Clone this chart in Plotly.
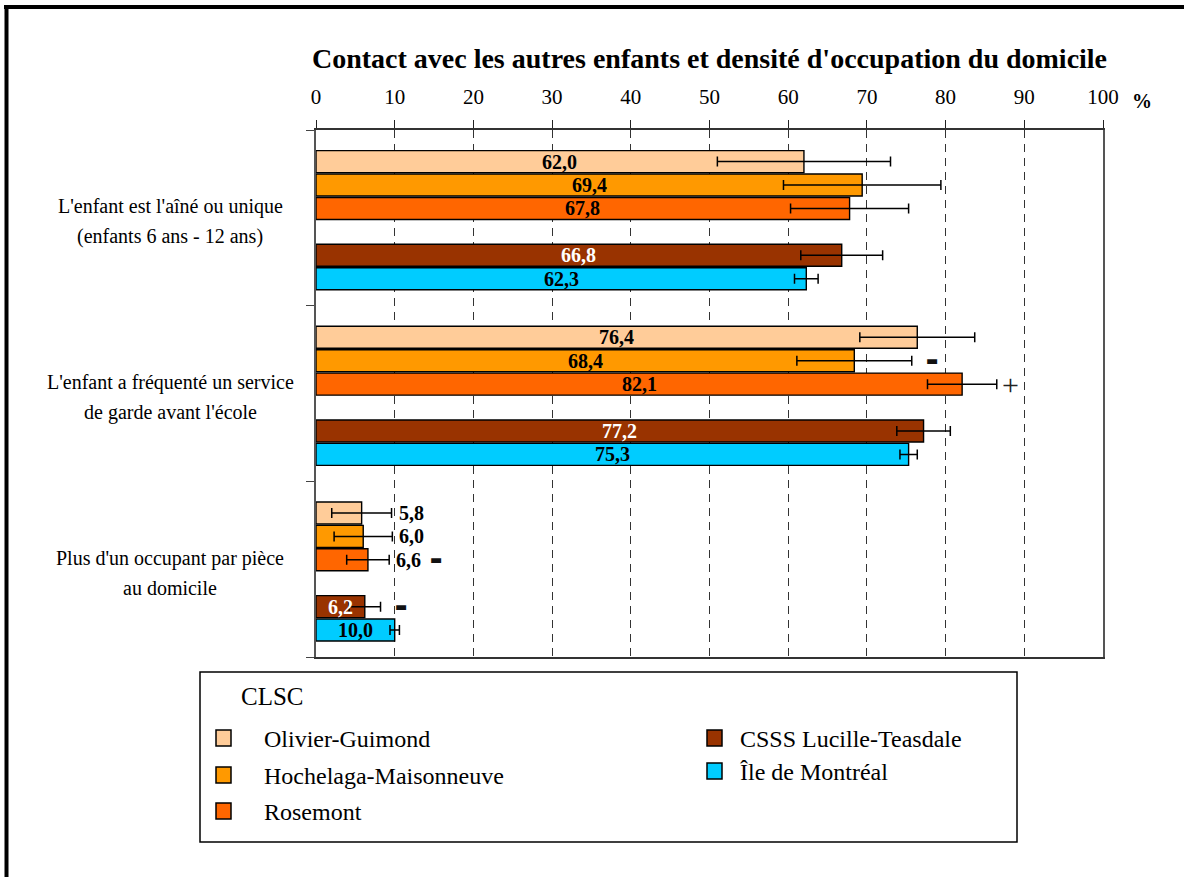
import plotly.graph_objects as go

# ---------------------------------------------------------------------------
# Data
# ---------------------------------------------------------------------------
title = "Contact avec les autres enfants et densité d'occupation du domicile"

categories = [
    ["L'enfant est l'aîné ou unique", "(enfants 6 ans - 12 ans)"],
    ["L'enfant a fréquenté un service", "de garde avant l'école"],
    ["Plus d'un occupant par pièce", "au domicile"],
]

series_names = [
    "Olivier-Guimond",
    "Hochelaga-Maisonneuve",
    "Rosemont",
    "CSSS Lucille-Teasdale",
    "Île de Montréal",
]
series_colors = ["#FFCC99", "#FF9900", "#FF6600", "#993300", "#00CCFF"]
label_colors = ["black", "black", "black", "white", "black"]

# values per series, one value per category
values = [
    [62.0, 76.4, 5.8],
    [69.4, 68.4, 6.0],
    [67.8, 82.1, 6.6],
    [66.8, 77.2, 6.2],
    [62.3, 75.3, 10.0],
]
# half-width of the confidence interval
errors = [
    [11.0, 7.3, 3.8],
    [10.0, 7.3, 3.7],
    [7.5, 4.4, 2.7],
    [5.2, 3.4, 2.0],
    [1.5, 1.1, 0.6],
]
# significance flags shown next to the bars
flags = [
    ["", "", ""],
    ["", "▬", ""],
    ["", "+", "▬"],
    ["", "", "▬"],
    ["", "", ""],
]

x_ticks = list(range(0, 101, 10))

# ---------------------------------------------------------------------------
# Geometry helpers (pixels -> paper)
# ---------------------------------------------------------------------------
W, H = 1184, 877
L, R, T, B = 316, 1103, 130, 657
GROUP = 7.5                      # slots per category
SLOT_OFFSETS = [1.35, 2.35, 3.35, 5.35, 6.35]
OUTSIDE_LABELS = {(0, 2), (1, 2), (2, 2)}   # (series, category)


def px(x):
    return (x - L) / (R - L)


def py(y):
    return (B - y) / (B - T)


SERIF = "Liberation Serif, Times New Roman, serif"

fig = go.Figure()

for i, name in enumerate(series_names):
    ys = [g * GROUP + SLOT_OFFSETS[i] for g in range(len(categories))]
    fig.add_trace(go.Bar(
        x=values[i], y=ys, orientation="h", name=name,
        width=0.94,
        marker=dict(color=series_colors[i], line=dict(color="black", width=1.4)),
        error_x=dict(type="data", array=errors[i], color="black",
                     thickness=1.5, width=5),
        hoverinfo="skip", showlegend=False,
    ))

    for g, v in enumerate(values[i]):
        label = f"{v:.1f}".replace(".", ",")
        outside = (i, g) in OUTSIDE_LABELS
        end = v + errors[i][g]
        if outside:
            fig.add_annotation(
                x=end, y=ys[g], xref="x", yref="y", text=f"<b>{label}</b>",
                showarrow=False, xanchor="left", xshift=5,
                font=dict(family=SERIF, size=20, color="black"),
            )
        else:
            fig.add_annotation(
                x=v / 2, y=ys[g], xref="x", yref="y", text=f"<b>{label}</b>",
                showarrow=False, xanchor="center",
                font=dict(family=SERIF, size=20, color=label_colors[i]),
            )
        mark = flags[i][g]
        if mark:
            if mark == "+":
                mfont = dict(family=SERIF, size=30, color="#222")
                shift = 3
            else:
                mfont = dict(family="DejaVu Sans", size=13, color="#111")
                shift = 39 if outside else 12
            fig.add_annotation(
                x=end, y=ys[g], xref="x", yref="y", text=mark,
                showarrow=False, xanchor="left", yanchor="middle",
                xshift=shift, font=mfont,
            )

# category labels on the left
for g, lines in enumerate(categories):
    yc = g * GROUP + GROUP / 2
    for k, line in enumerate(lines):
        fig.add_annotation(
            x=px(170), y=yc, xref="paper", yref="y", text=line,
            showarrow=False, xanchor="center", yanchor="middle",
            yshift=(15 - 30 * k) - 4,
            font=dict(family=SERIF, size=20, color="black"),
        )

# percent sign next to the top axis
fig.add_annotation(
    x=px(1142), y=py(101), xref="paper", yref="paper", text="<b>%</b>",
    showarrow=False, xanchor="center", yanchor="middle",
    font=dict(family=SERIF, size=20, color="black"),
)

# ---------------------------------------------------------------------------
# Legend box drawn by hand (two columns)
# ---------------------------------------------------------------------------
fig.add_shape(type="rect", xref="paper", yref="paper",
              x0=px(200), x1=px(1017), y0=py(672), y1=py(842),
              line=dict(color="black", width=1.5), fillcolor="white")
fig.add_annotation(x=px(239), y=py(696), xref="paper", yref="paper",
                   text="CLSC", showarrow=False, xanchor="left",
                   yanchor="middle",
                   font=dict(family=SERIF, size=25, color="black"))

legend_slots = [(216, 262, 739), (216, 262, 776), (216, 262, 812),
                (707, 738, 739), (707, 738, 772)]
for i, name in enumerate(series_names):
    sx, tx, yy = legend_slots[i]
    fig.add_shape(type="rect", xref="paper", yref="paper",
                  x0=px(sx), x1=px(sx + 15), y0=py(yy - 9), y1=py(yy + 7),
                  line=dict(color="black", width=1.5),
                  fillcolor=series_colors[i])
    fig.add_annotation(x=px(tx), y=py(yy), xref="paper", yref="paper",
                       text=name, showarrow=False, xanchor="left",
                       yanchor="middle",
                       font=dict(family=SERIF, size=24, color="black"))

# outer page frame (top and left edges)
fig.add_shape(type="line", xref="paper", yref="paper",
              x0=px(4), x1=px(W), y0=py(7), y1=py(7),
              line=dict(color="black", width=4))
fig.add_shape(type="line", xref="paper", yref="paper",
              x0=px(6.5), x1=px(6.5), y0=py(5), y1=py(H),
              line=dict(color="black", width=4))

fig.update_layout(
    width=W, height=H,
    margin=dict(l=L, r=W - R, t=T, b=H - B),
    paper_bgcolor="white", plot_bgcolor="white",
    barmode="overlay",
    title=dict(text=f"<b>{title}</b>", x=0.5, xref="paper",
               y=1 - 58 / H, yref="container", yanchor="middle",
               font=dict(family=SERIF, size=28, color="black")),
    xaxis=dict(
        side="top", range=[0, 100], tickvals=x_ticks,
        tickfont=dict(family=SERIF, size=21, color="black"),
        ticks="outside", ticklen=8, tickcolor="#222", tickwidth=1,
        ticklabelstandoff=8,
        showline=True, linecolor="#333", linewidth=2, mirror=True,
        showgrid=True, gridcolor="#333", gridwidth=1, griddash="8px,6px",
        zeroline=False,
    ),
    yaxis=dict(
        range=[GROUP * len(categories), 0],
        tickvals=[GROUP * k for k in range(len(categories) + 1)],
        showticklabels=False, ticks="outside", ticklen=8, tickcolor="#444",
        showline=True, linecolor="#555", linewidth=2, mirror=True,
        showgrid=False, zeroline=False,
    ),
)

fig.write_html("out.html", config={"displayModeBar": False},
               post_script="document.body.style.margin='0';")
